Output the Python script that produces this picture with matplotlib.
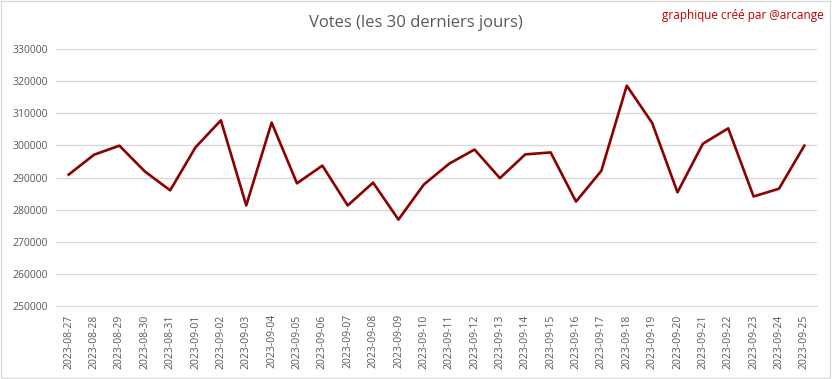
import matplotlib.pyplot as plt
from matplotlib.patches import Rectangle

# Data
dates = ["2023-08-27", "2023-08-28", "2023-08-29", "2023-08-30", "2023-08-31",
         "2023-09-01", "2023-09-02", "2023-09-03", "2023-09-04", "2023-09-05",
         "2023-09-06", "2023-09-07", "2023-09-08", "2023-09-09", "2023-09-10",
         "2023-09-11", "2023-09-12", "2023-09-13", "2023-09-14", "2023-09-15",
         "2023-09-16", "2023-09-17", "2023-09-18", "2023-09-19", "2023-09-20",
         "2023-09-21", "2023-09-22", "2023-09-23", "2023-09-24", "2023-09-25"]
votes = [290900, 297100, 299900, 291900, 286000,
         299400, 307800, 281300, 307100, 288200,
         293700, 281300, 288400, 276900, 287800,
         294300, 298700, 289800, 297200, 297800,
         282500, 292100, 318600, 307000, 285400,
         300500, 305300, 284100, 286500, 299900]
y_ticks = [250000, 260000, 270000, 280000, 290000, 300000, 310000, 320000, 330000]

plt.rcParams['font.family'] = ['Open Sans', 'DejaVu Sans']
grey = '#595959'

fig = plt.figure(figsize=(8.32, 3.79), dpi=100)
ax = fig.add_axes([56 / 832, 1 - 306 / 379, 761 / 832, 257 / 379])

x = range(len(dates))
ax.plot(x, votes, color='#8b0000', linewidth=1.9)

ax.set_xlim(-0.5, len(dates) - 0.5)
ax.set_ylim(250000, 330000)
ax.set_yticks(y_ticks)
ax.set_yticklabels([str(v) for v in y_ticks], color=grey, fontsize=7.5)
ax.set_xticks(list(x))
ax.set_xticklabels(dates, rotation=90, color=grey, fontsize=7.5)
ax.tick_params(axis='y', length=0, pad=6)
ax.tick_params(axis='x', length=0, pad=6)

ax.grid(axis='y', color='#d9d9d9', linewidth=1)
ax.set_axisbelow(True)
for side in ['top', 'right', 'left']:
    ax.spines[side].set_visible(False)
ax.spines['bottom'].set_color('#d9d9d9')

fig.text(0.5, 1 - 23 / 379, "Votes (les 30 derniers jours)", ha='center', va='center',
         color=grey, fontsize=12)
fig.text(824 / 832, 1 - 16 / 379, "graphique créé par @arcange", ha='right', va='center',
         color='#c00000', fontsize=8.5)

# light border around the chart
fig.patches.append(Rectangle((0.001, 0.002), 0.996, 0.996, transform=fig.transFigure,
                             fill=False, edgecolor='#d9d9d9', linewidth=1))

plt.savefig('out.png', dpi=100)
